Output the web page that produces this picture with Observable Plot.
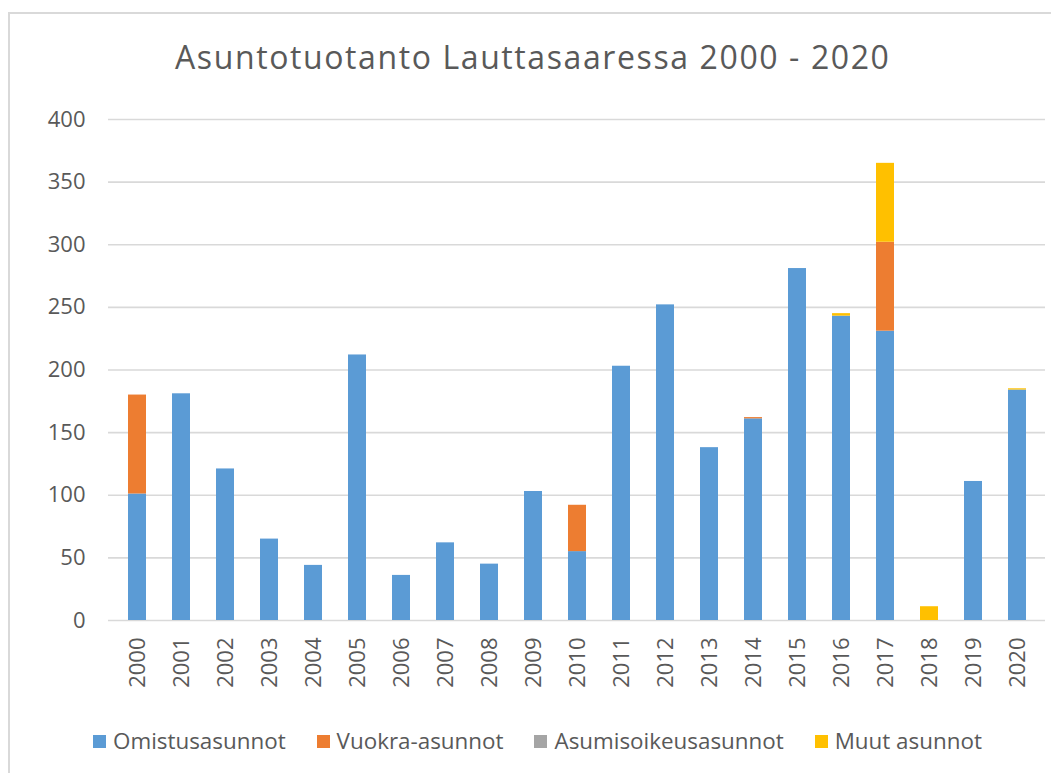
<!DOCTYPE html>
<html>
<head>
<meta charset="utf-8">
<script src="https://cdn.jsdelivr.net/npm/d3@7"></script>
<script src="https://cdn.jsdelivr.net/npm/@observablehq/plot@0.6"></script>
<style>
  html, body { margin: 0; padding: 0; background: #fff; }
  #wrap { position: relative; width: 1051px; height: 773px; overflow: hidden; font-family: "Open Sans", sans-serif; color: #595959; }
  #frame { position: absolute; left: 8px; top: 12px; right: -10px; bottom: -10px; border-left: 2px solid #d9d9d9; border-top: 2px solid #d9d9d9; }
  #title { position: absolute; left: 175px; top: 41px; font-size: 32px; letter-spacing: 1.6px; line-height: 1; white-space: nowrap; }
  #chart { position: absolute; left: 0; top: 100px; }
  #legend { position: absolute; left: 93px; top: 727px; display: flex; align-items: center; font-size: 22.4px; line-height: 28px; white-space: nowrap; }
  .item { display: flex; align-items: center; margin-right: 31px; }
  .sw { width: 13px; height: 13px; margin-right: 7px; }
</style>
</head>
<body>
<div id="wrap">
  <div id="frame"></div>
  <div id="title">Asuntotuotanto Lauttasaaressa 2000 - 2020</div>
  <div id="chart"></div>
  <div id="legend"></div>
</div>
<script>
const years = ["2000","2001","2002","2003","2004","2005","2006","2007","2008","2009","2010",
               "2011","2012","2013","2014","2015","2016","2017","2018","2019","2020"];
const seriesNames = ["Omistusasunnot", "Vuokra-asunnot", "Asumisoikeusasunnot", "Muut asunnot"];
const seriesColors = ["#5B9BD5", "#ED7D31", "#A5A5A5", "#FFC000"];
const omistus    = [101,181,121,65,44,212,36,62,45,103,55,203,252,138,161,281,243,231,0,111,184];
const vuokra     = [79,0,0,0,0,0,0,0,0,0,37,0,0,0,1,0,0,71,0,0,0];
const asumisoik  = [0,0,0,0,0,0,0,0,0,0,0,0,0,0,0,0,0,0,0,0,0];
const muut       = [0,0,0,0,0,0,0,0,0,0,0,0,0,0,0,0,2,63,11,0,1];
const yTicks = [0,50,100,150,200,250,300,350,400];

const seriesValues = [omistus, vuokra, asumisoik, muut];
const data = [];
seriesNames.forEach((s, si) => {
  years.forEach((y, i) => data.push({year: y, series: s, value: seriesValues[si][i]}));
});

const plot = Plot.plot({
  width: 1051,
  height: 610,
  marginLeft: 108,
  marginRight: 6,
  marginTop: 19,
  marginBottom: 90,
  style: {fontFamily: "'Open Sans', sans-serif", fontSize: "22px", color: "#595959", background: "transparent", overflow: "visible"},
  x: {type: "band", domain: years, paddingInner: 0.6, paddingOuter: 0.3, label: null},
  y: {domain: [0, 400], label: null},
  color: {domain: seriesNames, range: seriesColors},
  marks: [
    Plot.gridY(yTicks, {stroke: "#d9d9d9", strokeOpacity: 1, strokeWidth: 1.6}),
    Plot.barY(data, {x: "year", y: "value", fill: "series", order: seriesNames}),
    Plot.axisY({ticks: yTicks, tickSize: 0, tickPadding: 23, fill: "#595959"}),
    Plot.axisX({tickRotate: -90, tickSize: 0, tickPadding: 17, fill: "#595959"})
  ]
});
document.getElementById("chart").appendChild(plot);

const legend = document.getElementById("legend");
seriesNames.forEach((s, i) => {
  const item = document.createElement("div");
  item.className = "item";
  const sw = document.createElement("div");
  sw.className = "sw";
  sw.style.background = seriesColors[i];
  const t = document.createElement("span");
  t.textContent = s;
  item.appendChild(sw);
  item.appendChild(t);
  legend.appendChild(item);
});
</script>
</body>
</html>
